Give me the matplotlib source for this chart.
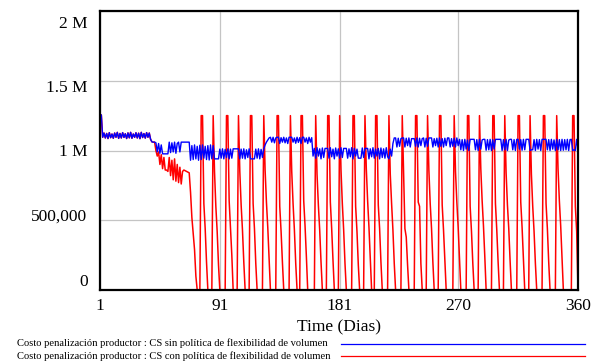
import matplotlib
matplotlib.use("Agg")
import matplotlib.pyplot as plt
from matplotlib.lines import Line2D
from matplotlib.transforms import ScaledTranslation
import numpy as np

# Daily penalty cost (thousands) for the producer, days 1..360
days = list(range(1, 361))

# CS without volume-flexibility policy
blue_k = [
    1255, 1255, 1095, 1125, 1090, 1122, 1086, 1128, 1092, 1118,
    1088, 1125, 1095, 1130, 1087, 1122, 1090, 1128, 1094, 1120,
    1086, 1126, 1091, 1130, 1088, 1118, 1095, 1127, 1090, 1124,
    1085, 1130, 1093, 1121, 1089, 1128, 1095, 1125, 1080, 1062,
    1060, 1060, 1055, 990, 1050, 980, 1040, 976, 976, 976,
    976, 976, 1060, 985, 1055, 990, 1060, 980, 1050, 1060,
    990, 1060, 1060, 1060, 1060, 1060, 1060, 1060, 930, 1035,
    935, 1040, 940, 1030, 930, 1038, 935, 1040, 945, 1030,
    935, 1035, 932, 1040, 940, 1035, 940, 940, 940, 940,
    1010, 945, 1012, 940, 1008, 950, 1012, 940, 1010, 945,
    1012, 1012, 1012, 1012, 1012, 940, 1010, 945, 1012, 940,
    1005, 950, 1012, 940, 940, 940, 940, 1010, 945, 1012,
    940, 1008, 950, 1012, 1040, 1060, 1075, 1090, 1095, 1060,
    1095, 1055, 1090, 1095, 1095, 1050, 1092, 1060, 1095, 1055,
    1090, 1050, 1095, 1095, 1095, 1060, 1090, 1052, 1095, 1058,
    1092, 1050, 1095, 1095, 1060, 1090, 1050, 1095, 1060, 1092,
    960, 1015, 945, 1020, 960, 1012, 940, 1018, 950, 1015,
    1015, 1015, 945, 1020, 955, 1010, 940, 1018, 960, 1012,
    945, 1020, 950, 1015, 1015, 1015, 945, 1012, 955, 1020,
    940, 1015, 960, 1010, 945, 945, 945, 1018, 950, 1015,
    1015, 1015, 940, 1012, 955, 1020, 945, 1010, 960, 1015,
    940, 1018, 950, 1012, 945, 1020, 955, 940, 1010, 960,
    1050, 1090, 1090, 1025, 1088, 1030, 1085, 1090, 1090, 1025,
    1088, 1035, 1090, 1025, 1085, 1085, 1085, 1030, 1090, 1025,
    1088, 1035, 1085, 1090, 1025, 1088, 1030, 1090, 1090, 1090,
    1025, 1085, 1035, 1088, 1025, 1090, 1030, 1085, 1025, 1088,
    1035, 1090, 1090, 1025, 1085, 1030, 1088, 1025, 1090, 1035,
    1080, 1005, 1078, 1000, 1080, 1010, 1075, 1000, 1080, 1080,
    1080, 1080, 1005, 1078, 1000, 1080, 1010, 1076, 1080, 1080,
    1002, 1078, 1005, 1080, 1000, 1078, 1010, 1080, 1080, 1080,
    1080, 1080, 1000, 1078, 1005, 1080, 1000, 1075, 1080, 1080,
    1005, 1078, 1000, 1080, 1080, 1010, 1078, 1002, 1080, 1005,
    1080, 1080, 1080, 1000, 1005, 1005, 1078, 1000, 1080, 1010,
    1078, 1000, 1080, 1080, 1080, 1080, 1005, 1078, 1000, 1080,
    1010, 1076, 1000, 1080, 1005, 1078, 1000, 1080, 1002, 1078,
    1005, 1080, 1000, 1078, 1080, 1000, 1005, 1000, 1080, 1010,
]

# CS with volume-flexibility policy: identical to the run above until day 42
red_k = blue_k[:42] + [
    1000, 960, 990, 900, 970, 870, 950, 860, 860, 850,
    950, 820, 930, 790, 940, 780, 900, 770, 880, 760,
    850, 860, 855, 850, 845, 840, 700, 520, 400, 290,
    100, 0, 0, 0,
    1250, 1250, 620, 440, 200, 0, 0, 0, 0,
    1250, 850, 600, 420, 180, 0, 0, 0, 0, 0,
    1250, 1250, 640, 450, 250, 0, 0, 0, 0,
    1250, 850, 610, 430, 200, 0, 0, 0, 0,
    1250, 1250, 620, 440, 190, 0, 0, 0, 0, 0,
    1250, 860, 630, 450, 230, 0, 0, 0, 0, 0,
    1250, 1250, 600, 420, 200, 0, 0, 0, 0, 0,
    1250, 850, 620, 430, 190, 0, 0, 0,
    1250, 1250, 640, 460, 240, 0, 0, 0, 0, 0, 0,
    1250, 830, 610, 430, 200, 0, 0, 0, 0,
    1250, 1250, 630, 440, 210, 0, 0, 0, 0,
    1250, 860, 620, 430, 190, 0, 0, 0, 0, 0,
    1250, 1250, 600, 420, 180, 0, 0, 0, 0,
    1250, 870, 640, 450, 230, 0, 0, 0,
    1250, 1250, 610, 440, 200, 0, 0, 0, 0, 0,
    1250, 830, 620, 430, 190, 0, 0, 0, 0, 0,
    1250, 850, 440, 380, 180, 0, 0, 0, 0, 0,
    1250, 1250, 630, 600, 190, 0, 0, 0, 0,
    1250, 860, 620, 440, 200, 0, 0, 0, 0,
    1250, 1250, 610, 430, 210, 0, 0, 0, 0, 0, 0,
    1250, 850, 630, 450, 220, 0, 0, 0, 0, 0,
    1250, 1250, 600, 420, 190, 0, 0, 0, 0,
    1250, 870, 640, 460, 240, 0, 0, 0, 0, 0,
    1250, 1250, 620, 430, 200, 0, 0, 0, 0,
    1250, 840, 610, 440, 210, 0, 0, 0, 0, 0,
    1250, 1250, 630, 450, 220, 0, 0, 0, 0,
    1250, 830, 600, 420, 190, 0, 0, 0, 0, 0,
    1250, 1250, 620, 440, 200, 0, 0, 0, 0, 0,
    1250, 870, 640, 460, 230, 0, 0, 0, 0, 0, 0, 0,
    1250, 1250, 600, 420, 0,
]

x_ticks = [1, 91, 181, 270, 360]
y_ticks = [0, 500000, 1000000, 1500000, 2000000]
y_tick_labels = ["0", "500,000", "1 M", "1.5 M", "2 M"]
legend_labels = [
    "Costo penalización productor : CS sin política de flexibilidad de volumen",
    "Costo penalización productor : CS con política de flexibilidad de volumen",
]
x_label = "Time (Dias)"

plt.rcParams["font.family"] = ["Liberation Serif", "DejaVu Serif"]

W, H = 602, 362
fig = plt.figure(figsize=(W / 100, H / 100), dpi=100)
ax = fig.add_axes([100 / W, 1 - 290 / H, 478 / W, 279 / H])

blue = np.array(blue_k) * 1000
red = np.array(red_k) * 1000

ax.plot(days, red, color="#ff0000", lw=1.1, zorder=3)
ax.plot(days, blue, color="#0000ff", lw=1.0, zorder=4)

ax.set_xlim(1, 360)
ax.set_ylim(0, 2000000)
ax.set_xticks(x_ticks)
ax.set_xticklabels([str(t) for t in x_ticks])
ax.set_yticks(y_ticks)
ax.set_yticklabels(y_tick_labels)
ax.tick_params(axis="both", length=0, labelsize=12.5, colors="black")
ax.tick_params(axis="y", pad=9)
ax.tick_params(axis="x", pad=6)

# value labels sit spread inside the axis span: top one lower, bottom one higher
label_shift_px = [9.5, 6, 0, -5, -11]
for lab, dy in zip(ax.get_yticklabels(), label_shift_px):
    lab.set_transform(lab.get_transform() + ScaledTranslation(0, dy / 100, fig.dpi_scale_trans))

ax.grid(True, color="#c4c4c4", lw=0.9, zorder=1)
ax.set_axisbelow(True)
for s in ax.spines.values():
    s.set_linewidth(1.6)
    s.set_color("black")
    s.set_zorder(5)

fig.text(339 / W, 1 - 327 / H, x_label, ha="center", va="center", fontsize=12.5)

# Legend rows: label text followed by a sample line
leg_colors = ["#0000ff", "#ff0000"]
leg_y = [343.5, 356.0]
for lab, col, yy in zip(legend_labels, leg_colors, leg_y):
    fig.text(17 / W, 1 - yy / H, lab, ha="left", va="center", fontsize=7.6)
    fig.add_artist(Line2D([341 / W, 585 / W], [1 - yy / H, 1 - yy / H],
                          transform=fig.transFigure, color=col, lw=0.9))

fig.savefig("out.png", dpi=100)
